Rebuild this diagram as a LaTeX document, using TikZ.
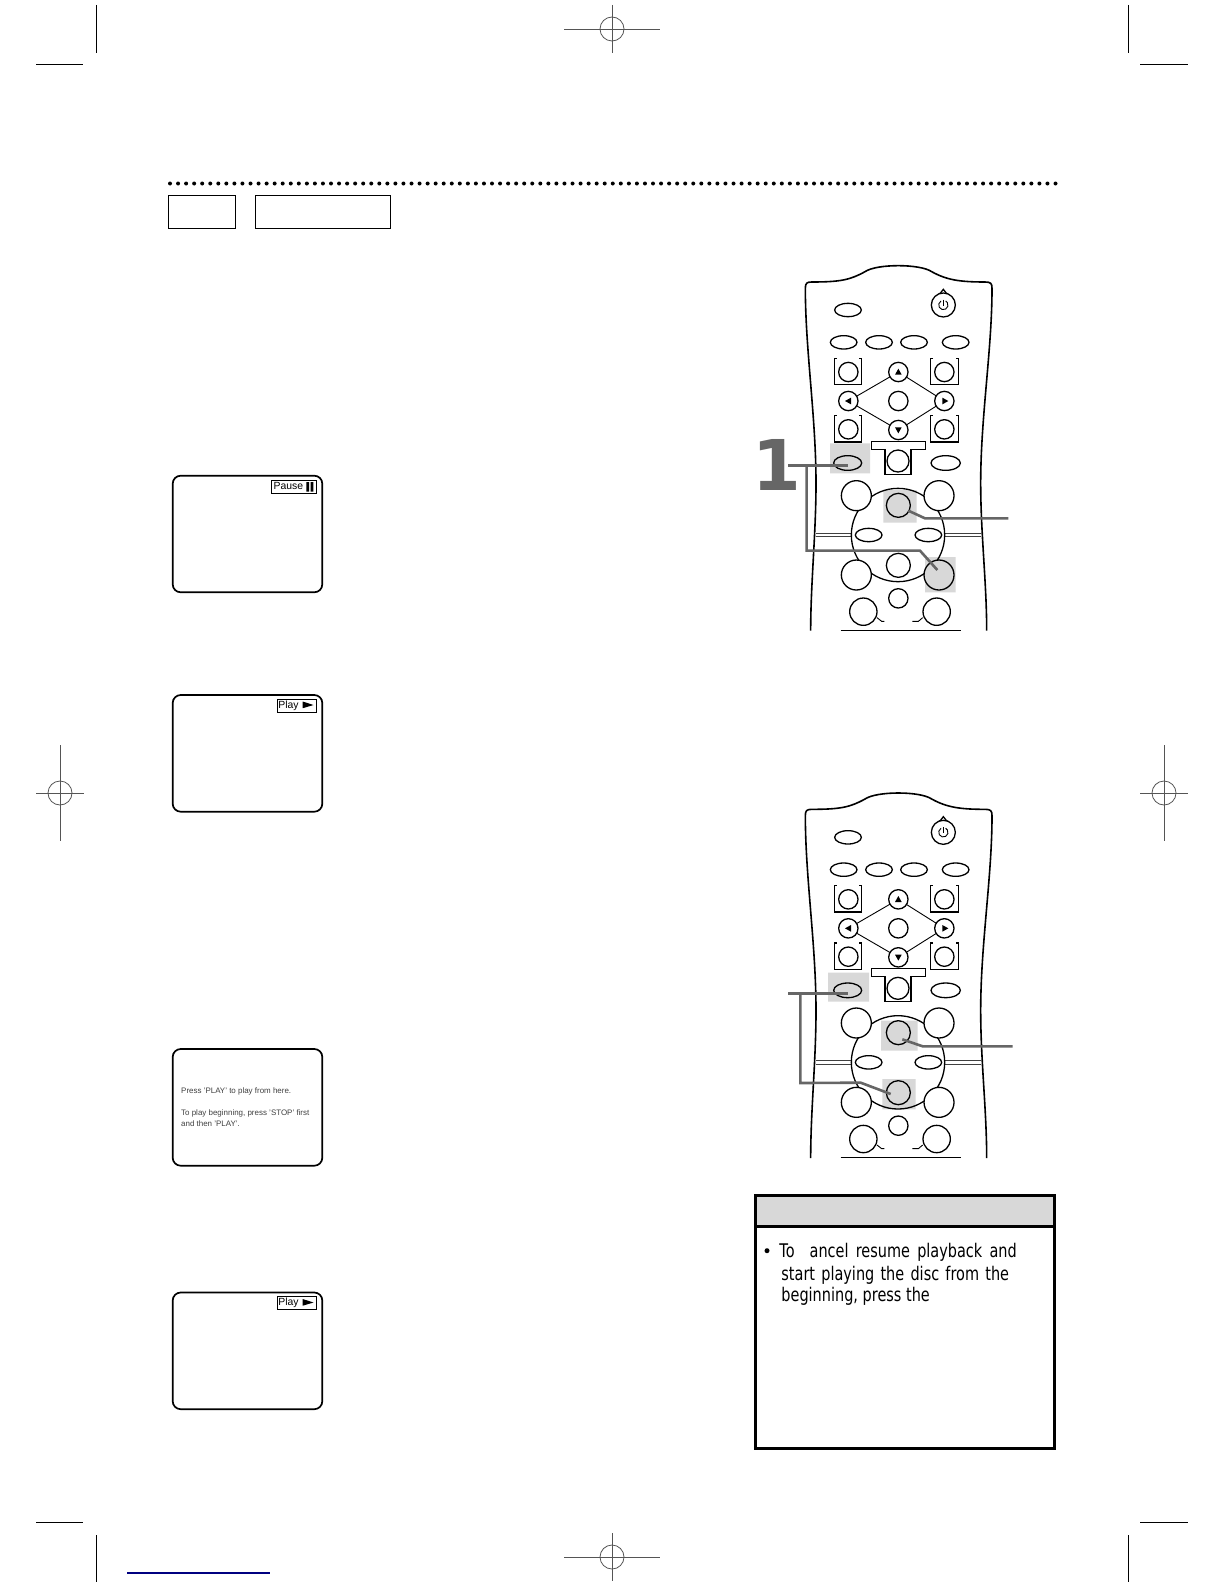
\documentclass[tikz,border=0pt]{standalone}
\usepackage{fontspec}
\setmainfont{Liberation Sans}
\newfontfamily\notefont[FakeStretch=0.77]{DejaVu Sans}
\newfontfamily\onefont{DejaVu Sans}
\usetikzlibrary{shapes.geometric,calc}
\definecolor{hl}{HTML}{D8D8D8}
\definecolor{lead}{HTML}{666666}
\definecolor{crop}{HTML}{555555}
\tikzset{
  cropline/.style={line width=.4pt,black},
  regline/.style={line width=.4pt,crop},
  btn/.style={circle,draw,inner sep=0pt,outer sep=0pt,line width=.65pt,fill=white,minimum size=#1*.33333pt},
  ovalbtn/.style={ellipse,draw,inner sep=0pt,outer sep=0pt,line width=.65pt,fill=white,minimum width=#1*.16667pt,minimum height=40*.16667pt},
  rline/.style={line width=.65pt,black},
  leader/.style={line width=1.3pt,lead,line join=miter},
  screen/.style={line width=.85pt,black,rounded corners=4pt},
  osd/.style={draw,line width=.4pt,fill=white},
  osdtext/.style={font=\fontsize{5.2}{6}\selectfont,inner sep=0pt,anchor=base west},
  msg/.style={font=\fontsize{3.98}{5}\selectfont,inner sep=0pt,anchor=base west,text=black!75},
  notetext/.style={font=\notefont\fontsize{9.4}{11}\selectfont,inner sep=0pt,anchor=base west},
}
\newcommand{\remotebody}[4]{%
  \draw[line width=.8pt,black]
    (212,1142) .. controls (212,1000) and (228,850) .. (228,700)
    .. controls (228,500) and (196,300) .. (196,115)
    .. controls (196,100) and (200,96) .. (215,96)
    .. controls (300,96) and (330,90) .. (375,65)
    .. controls (410,41) and (540,41) .. (575,65)
    .. controls (620,90) and (660,96) .. (735,96)
    .. controls (752,96) and (756,100) .. (756,115)
    .. controls (756,300) and (722,500) .. (722,700)
    .. controls (722,850) and (740,1000) .. (740,1142);
  \draw[line width=.5pt,black!75] (228,850)--(335,850) (228,860)--(335,860) (615,850)--(722,850) (615,860)--(722,860);
  \draw[line width=.8pt] (302,1141)--(662,1141);
  % power
  \draw[rline,fill=white] (590,138) .. controls (600,130) and (606,126) .. (610,118) .. controls (614,126) and (620,130) .. (630,138);
  \node[btn=36] (#1-power) at (610,165) {};
  \draw[line width=.45pt] (603,152.9) arc[start angle=240,end angle=-60,radius=14];
  \draw[line width=.45pt] (610,149)--(610,167);
  \node[ovalbtn=80] (#1-o1) at (324,180) {};
  \node[ovalbtn=80] (#1-o2) at (311,277) {};
  \node[ovalbtn=80] (#1-o3) at (417,277) {};
  \node[ovalbtn=80] (#1-o4) at (522,277) {};
  \node[ovalbtn=80] (#1-o5) at (647,277) {};
  % brackets
  \draw[rline] (290,325)-|(283,404)-|(365,325)--(358,325);
  \draw[rline] (579,325)-|(572,404)-|(656,325)--(649,325);
  \draw[rline] (290,497)-|(283,576)-|(365,497)--(358,497);
  \draw[rline] (579,497)-|(572,576)-|(656,497)--(649,497);
  \node[btn=29] (#1-ul) at (325,366) {};
  \node[btn=29] (#1-ur) at (613,366) {};
  \node[btn=29] (#1-ll) at (325,538) {};
  \node[btn=29] (#1-lr) at (613,538) {};
  \node[btn=29] (#1-up) at (475,366) {};
  \node[btn=29] (#1-left) at (325,453) {};
  \node[btn=29] (#1-mid) at (475,453) {};
  \node[btn=29] (#1-right) at (613,453) {};
  \node[btn=29] (#1-down) at (475,540) {};
  \draw[line width=.45pt] (#1-up)--(#1-left) (#1-up)--(#1-right) (#1-down)--(#1-left) (#1-down)--(#1-right);
  \fill (475,356)--(465,374)--(485,374)--cycle;
  \fill (475,550)--(465,532)--(485,532)--cycle;
  \fill (315,453)--(333,443)--(333,463)--cycle;
  \fill (625,453)--(607,443)--(607,463)--cycle;
  % T
  \draw[rline,fill=white] (435,598)--(395,598)--(395,574)--(556,574)--(556,598)--(513,598)--(513,673)--(435,673)--cycle;
  \draw[rline,white] (437,598)--(511,598);
  \node[btn=33] (#1-tee) at (474,633) {};
  \node[ellipse,draw,inner sep=0pt,line width=.65pt,fill=white,minimum width=88*.16667pt,minimum height=44*.16667pt] (#1-oright) at (617,639) {};
  % wheel
  \fill[white] (474,855) circle[radius=140];
  #4
  \draw[line width=.65pt] (474,855) circle[radius=140];
  \node[ellipse,draw,inner sep=0pt,line width=.65pt,fill=hl,minimum width=84*.16667pt,minimum height=44*.16667pt] (#1-pick) at (323,639) {};
  \node[btn=45] (#1-c1) at (349,737) {};
  \node[btn=45] (#1-c2) at (597,737) {};
  \node[btn=36,fill=hl] (#1-top) at (475,766) {};
  \node[ovalbtn=80] (#1-o6) at (386,855) {};
  \node[ovalbtn=80] (#1-o7) at (565,855) {};
  \node[btn=45] (#1-c3) at (349,975) {};
  \node[btn=45,fill=#2] (#1-br) at (597,975) {};
  \node[btn=36,fill=#3] (#1-bc) at (475,946) {};
  \node[btn=29] (#1-sm) at (475,1045) {};
  \node[btn=41] (#1-c5) at (370,1085) {};
  \node[btn=41] (#1-c6) at (590,1085) {};
  \draw[line width=.45pt] (411,1103)--(425,1114)--(433,1114) (548,1103)--(535,1114)--(517,1114);
}
\newcommand{\crossmark}[5]{% cx cy halfh halfv name
  \coordinate (#5) at (#1,#2);
  \draw[regline] (#5) circle[radius=12];
  \draw[regline] ($(#5)+(-#3,0)$) -- ($(#5)+(#3,0)$);
  \draw[regline] ($(#5)+(0,-#4)$) -- ($(#5)+(0,#4)$);
}
\begin{document}
\begin{tikzpicture}[x=.5pt,y=-.5pt]
\useasboundingbox (0,0) rectangle (1224,1584);
\fill[white] (0,0) rectangle (1224,1584);
% crop marks
\draw[cropline] (96,5)--(96,53) (36,64)--(83,64) (1128,5)--(1128,53) (1140,64)--(1188,64)
  (36,1522)--(83,1522) (96,1535)--(96,1582) (1128,1535)--(1128,1582) (1140,1522)--(1188,1522);
\crossmark{612}{29}{48}{24}{regtop}
\crossmark{612}{1557}{48}{24}{regbot}
\crossmark{60}{793}{24}{48}{regleft}
\crossmark{1164}{793}{24}{48}{regright}
\draw[line width=.6pt,blue!50!black] (127,1573)--(270,1573);
% header
\foreach \i in {0,...,110} \fill (170+8.05*\i,183.5) circle[radius=2];
\node[draw,line width=.55pt,inner sep=0pt,minimum width=33.3pt,minimum height=16.5pt,anchor=north west] (tab1) at (168.3,195.3) {};
\node[draw,line width=.55pt,inner sep=0pt,minimum width=67.3pt,minimum height=16.5pt,anchor=north west] (tab2) at (255.3,195.3) {};
% screens
\draw[screen] (172.7,475.7) rectangle (322.3,592.3);
\draw[osd] (271.7,480.3) rectangle (316.7,493.7);
\node[osdtext] (pausetxt) at (273.2,489.6) {Pause};
\fill (306.3,482) rectangle (309.2,491.5) (310.5,482) rectangle (313.4,491.5);
\draw[screen] (172.7,695) rectangle (322.3,811.7);
\draw[osd] (277.7,699.3) rectangle (316.7,712.3);
\node[osdtext] (playtxta) at (278,708) {Play};
\fill (302.7,701.5)--(313.5,705)--(302.7,708.2)--cycle;
\draw[screen] (172.7,1049) rectangle (322.3,1165.7);
\node[msg] (msga) at (180.8,1093) {Press 'PLAY' to play from here.};
\node[msg] (msgb) at (180.8,1115) {To play beginning, press 'STOP' first};
\node[msg] (msgc) at (180.8,1126.5) {and then 'PLAY'.};
\draw[screen] (172.7,1292.5) rectangle (322.3,1409.2);
\draw[osd] (277.7,1296.8) rectangle (316.7,1309.8);
\node[osdtext] (playtxtb) at (278,1305.5) {Play};
\fill (302.7,1299)--(313.5,1302.5)--(302.7,1305.7)--cycle;
% remote 1
\begin{scope}[shift={(740,250)},x=.166667pt,y=-.166667pt]
  \remotebody{ra}{hl}{white}{%
    \fill[hl] (270,580) rectangle (390,670) (430,720) rectangle (530,818) (555,921) rectangle (647,1027);}
  \node[inner sep=0pt,anchor=base,text=lead,font=\onefont\bfseries\fontsize{35}{35}\selectfont] (num) at (112,720) {1};
  \coordinate (ra-s) at (145,647);
  \coordinate (ra-e) at (325,647);
  \coordinate (ra-j) at (200,647);
  \coordinate (ra-k) at (200,902);
  \coordinate (ra-m) at (540,902);
  \coordinate (ra-n) at (592,960);
  \draw[leader] (ra-s)--(ra-e);
  \draw[leader] (ra-j)--(ra-k)--(ra-m)--(ra-n);
  \coordinate (ra-p) at (505,782);
  \coordinate (ra-q) at (555,805);
  \coordinate (ra-r) at (805,805);
  \draw[leader] (ra-p)--(ra-q)--(ra-r);
\end{scope}
% remote 2
\begin{scope}[shift={(740,777.33)},x=.166667pt,y=-.166667pt]
  \remotebody{rb}{white}{hl}{%
    \fill[hl] (264,586) rectangle (387,673) (423,730) rectangle (533,820) (427,905) rectangle (527,996);}
  \coordinate (rb-s) at (145,648);
  \coordinate (rb-e) at (325,648);
  \coordinate (rb-j) at (181,648);
  \coordinate (rb-k) at (181,917);
  \coordinate (rb-m) at (362,916);
  \coordinate (rb-n) at (452,950);
  \draw[leader] (rb-s)--(rb-e);
  \draw[leader] (rb-j)--(rb-k)--(rb-m)--(rb-n);
  \coordinate (rb-p) at (487,786);
  \coordinate (rb-q) at (548,807);
  \coordinate (rb-r) at (818,807);
  \draw[leader] (rb-p)--(rb-q)--(rb-r);
\end{scope}
% note
\fill[hl] (755.7,1195) rectangle (1054,1226);
\draw[line width=1.5pt] (755.7,1195) rectangle (1054,1448);
\draw[line width=1.5pt] (755.7,1226)--(1054,1226);
\fill (767,1250.7) circle[radius=2.5];
\node[notetext] (nl1) at (779,1257.7) {\spaceskip=\dimexpr\fontdimen2\font+1.3pt\relax To\hspace{7.5pt}ancel resume playback and};
\node[notetext] (nl2) at (781,1280) {\spaceskip=\dimexpr\fontdimen2\font+.8pt\relax start playing the disc from the};
\node[notetext] (nl3) at (781,1301.5) {beginning, press the};
\end{tikzpicture}
\end{document}
